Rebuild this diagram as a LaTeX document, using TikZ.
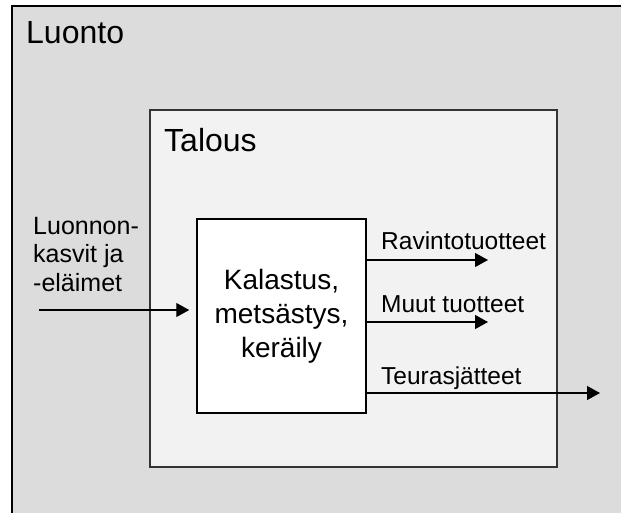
\documentclass[tikz,border=0pt]{standalone}
\usepackage{fontspec}
\setmainfont{Liberation Sans}
\usetikzlibrary{arrows.meta}

\definecolor{luontogray}{HTML}{DCDCDC}
\definecolor{talousgray}{HTML}{F2F2F2}

\begin{document}
\begin{tikzpicture}[x=1pt, y=-1pt,
    box/.style={draw, rectangle, inner sep=0pt, line width=1.5pt},
    flow/.style={-{Triangle[length=13pt, width=14pt]}, line width=1.2pt},
    title/.style={anchor=base west, inner sep=0pt, font=\fontsize{32}{38}\selectfont},
    flowlabel/.style={anchor=base west, inner sep=0pt, font=\fontsize{24.5}{29}\selectfont}]

     \useasboundingbox (0,0) rectangle (621,512);

     % nature around everything, cut off at the page edge
     \begin{scope}
          \clip (0,0) rectangle (621,512);
          \node (luonto) at (319,261) [box, fill=luontogray, minimum width=614pt, minimum height=510pt] {};
     \end{scope}
     \node (luontotitle) at (26,43) [title] {Luonto};

     \node (talous) at (353.5,288.5) [box, draw=black!80, fill=talousgray, minimum width=407pt, minimum height=357pt] {};
     \node (taloustitle) at (164,151) [title] {Talous};

     \node (kal) at (281.5,316) [box, fill=white, minimum width=169pt, minimum height=194pt,
          align=center, font=\fontsize{28}{34}\selectfont] {Kalastus,\\metsästys,\\keräily};

     % input from nature
     \node (input) at (33,217) [anchor=north west, inner sep=0pt, align=left, font=\fontsize{25}{28.5}\selectfont] {Luonnon-\\kasvit ja\\-eläimet};
     \coordinate (src) at (39,310);
     \draw [flow, shorten >=7pt] (src) -- (src -| kal.west);

     % outputs
     \coordinate (ravinto) at (488,260);
     \coordinate (muut) at (488,322);
     \coordinate (teuras) at (600,393);

     \draw [flow] (ravinto -| kal.east) -- (ravinto);
     \draw [flow] (muut -| kal.east) -- (muut);
     \draw [flow] (teuras -| kal.east) -- (teuras);

     \node (ravintolabel) at (381,249) [flowlabel] {Ravintotuotteet};
     \node (muutlabel) at (381,312) [flowlabel] {Muut tuotteet};
     \node (teuraslabel) at (381,384) [flowlabel] {Teurasjätteet};

\end{tikzpicture}
\end{document}
